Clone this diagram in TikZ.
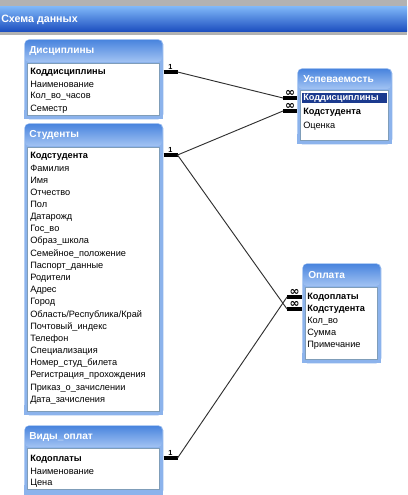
\documentclass[tikz,border=0pt]{standalone}
\usepackage{fontspec}
\setmainfont{Liberation Sans}
\newfontfamily\symfont{DejaVu Sans}
\usetikzlibrary{positioning}

\newdimen\px \px=0.75pt
\newcommand\fldfont{\fontsize{6.9}{8.5}\selectfont}

\definecolor{winGray}{HTML}{B2B2B2}
\definecolor{barTop}{HTML}{7DB5F7}
\definecolor{barMid}{HTML}{3F86EA}
\definecolor{barBot}{HTML}{1A4CBE}
\definecolor{frameBlue}{HTML}{8CB3EC}
\definecolor{headTop}{HTML}{4A85DE}
\definecolor{headBot}{HTML}{A2C3F3}
\definecolor{listLine}{HTML}{7F9DB9}
\definecolor{selBlue}{HTML}{1B3A8E}
\definecolor{relGray}{HTML}{303030}

\tikzset{
  tbl/.style={anchor=north west, inner sep=0pt, fill=frameBlue, rounded corners=5\px},
  head/.style={top color=headTop, bottom color=headBot, rounded corners=4\px},
  listbox/.style={draw=listLine, fill=white, line width=0.6pt},
  ttl/.style={anchor=west, inner sep=0pt, text=white, font=\fontsize{7.6}{9}\selectfont\bfseries},
  fld/.style={anchor=west, inner sep=0pt, font=\fldfont},
  key/.style={fld, font=\fldfont\bfseries},
  onebar/.style={line width=2.3pt, line cap=butt},
  onelbl/.style={inner sep=1pt, font=\fontsize{5.5}{5.5}\selectfont\bfseries},
  manylbl/.style={inner sep=0.3pt, font=\symfont\fontsize{9}{9}\selectfont\bfseries},
  rel/.style={draw=relGray, line width=0.7pt}
}

\begin{document}
\begin{tikzpicture}[x=0.75pt, y=-0.75pt]
  \useasboundingbox (0,0) rectangle (407,495);
  % window title
  \fill[winGray] (0,0) rectangle (407,7);
  \shade[top color=barTop, middle color=barMid, bottom color=barBot] (0,7) rectangle (407,32);
  \fill[winGray] (0,32) rectangle (407,35);
  \node[anchor=west, inner sep=0pt, text=white, font=\fontsize{8}{9}\selectfont\bfseries] (title) at (1,20) {Схема данных};

  % Дисциплины
  \node[tbl, minimum width=139\px, minimum height=80\px] (disc) at (24,39) {};
  \fill[frameBlue] (24,110) rectangle (163,119);
  \shade[head] (25,40) rectangle (162,62);
  \draw[listbox] (27,63) rectangle (159,115);
  \node[ttl] (discT) at (29,51) {Дисциплины};
  \node[key] (dKod) at (30,72) {Коддисциплины};
  \foreach \f [count=\i] in {Наименование, Кол\_во\_часов, Семестр}
    \node[fld] (d\i) at (30,72+\i*12.3) {\f};

  % Студенты
  \node[tbl, minimum width=139\px, minimum height=292\px] (stud) at (24,123) {};
  \fill[frameBlue] (24,405) rectangle (163,415);
  \shade[head] (25,124) rectangle (162,146);
  \draw[listbox] (27,147) rectangle (159,411);
  \node[ttl] (studT) at (29,135) {Студенты};
  \node[key] (sKod) at (30,156) {Кодстудента};
  \foreach \f [count=\i] in {Фамилия, Имя, Отчество, Пол, Датарожд, Гос\_во, Образ\_школа,
      Семейное\_положение, Паспорт\_данные, Родители, Адрес, Город, Область/Республика/Край,
      Почтовый\_индекс, Телефон, Специализация, Номер\_студ\_билета, Регистрация\_прохождения,
      Приказ\_о\_зачислении, Дата\_зачисления}
    \node[fld] (s\i) at (30,156+\i*12.2) {\f};

  % Виды_оплат
  \node[tbl, minimum width=139\px, minimum height=70\px] (vid) at (24,425) {};
  \fill[frameBlue] (24,485) rectangle (163,495);
  \shade[head] (25,426) rectangle (162,447);
  \draw[listbox] (27,448) rectangle (159,489);
  \node[ttl] (vidT) at (29,437) {Виды\_оплат};
  \node[key] (vKod) at (30,459) {Кодоплаты};
  \foreach \f [count=\i] in {Наименование, Цена}
    \node[fld] (v\i) at (30,459+\i*12.2) {\f};

  % Успеваемость
  \node[tbl, minimum width=95\px, minimum height=76\px] (usp) at (297,68) {};
  \fill[frameBlue] (297,134) rectangle (392,144);
  \shade[head] (298,69) rectangle (391,89);
  \draw[listbox] (300,90) rectangle (388,140);
  \node[ttl] (uspT) at (303,79) {Успеваемость};
  \fill[selBlue] (302,93) rectangle (387,103);
  \node[key, text=white] (uKod) at (303,98) {Коддисциплины};
  \node[key] (uKs) at (303,112) {Кодстудента};
  \node[fld] (u1) at (303,126) {Оценка};

  % Оплата
  \node[tbl, minimum width=79\px, minimum height=100\px] (opl) at (302,263) {};
  \fill[frameBlue] (302,353) rectangle (381,363);
  \shade[head] (303,264) rectangle (380,286);
  \draw[listbox] (305,287) rectangle (377,359);
  \node[ttl] (oplT) at (308,275) {Оплата};
  \node[key] (oKod) at (307,297) {Кодоплаты};
  \node[key] (oKs) at (307,309) {Кодстудента};
  \foreach \f [count=\i] in {Кол\_во, Сумма, Примечание}
    \node[fld] (o\i) at (307,309+\i*12.2) {\f};

  % связи
  \draw[onebar] (dKod -| disc.east) -- ++(14,0) coordinate (dOut) node[onelbl, midway, above] {1};
  \draw[onebar] ([yshift=1\px]sKod -| stud.east) -- ++(14,0) coordinate (sOut) node[onelbl, midway, above] {1};
  \draw[onebar] ([yshift=1\px]vKod -| vid.east) -- ++(14,0) coordinate (vOut) node[onelbl, midway, above] {1};
  \draw[onebar] (uKod -| usp.west) -- ++(-14,0) coordinate (uIn1) node[manylbl, midway, above] {∞};
  \draw[onebar] ([yshift=1\px]uKs -| usp.west) -- ++(-14,0) coordinate (uIn2) node[manylbl, midway, above] {∞};
  \draw[onebar] (oKod -| opl.west) -- ++(-15,0) coordinate (oIn1) node[manylbl, midway, above] {∞};
  \draw[onebar] (oKs -| opl.west) -- ++(-15,0) coordinate (oIn2) node[manylbl, midway, above] {∞};
  \draw[rel] (dOut) -- (uIn1);
  \draw[rel] (sOut) -- (uIn2);
  \draw[rel] (sOut) -- (oIn2);
  \draw[rel] (vOut) -- (oIn1);
\end{tikzpicture}
\end{document}
